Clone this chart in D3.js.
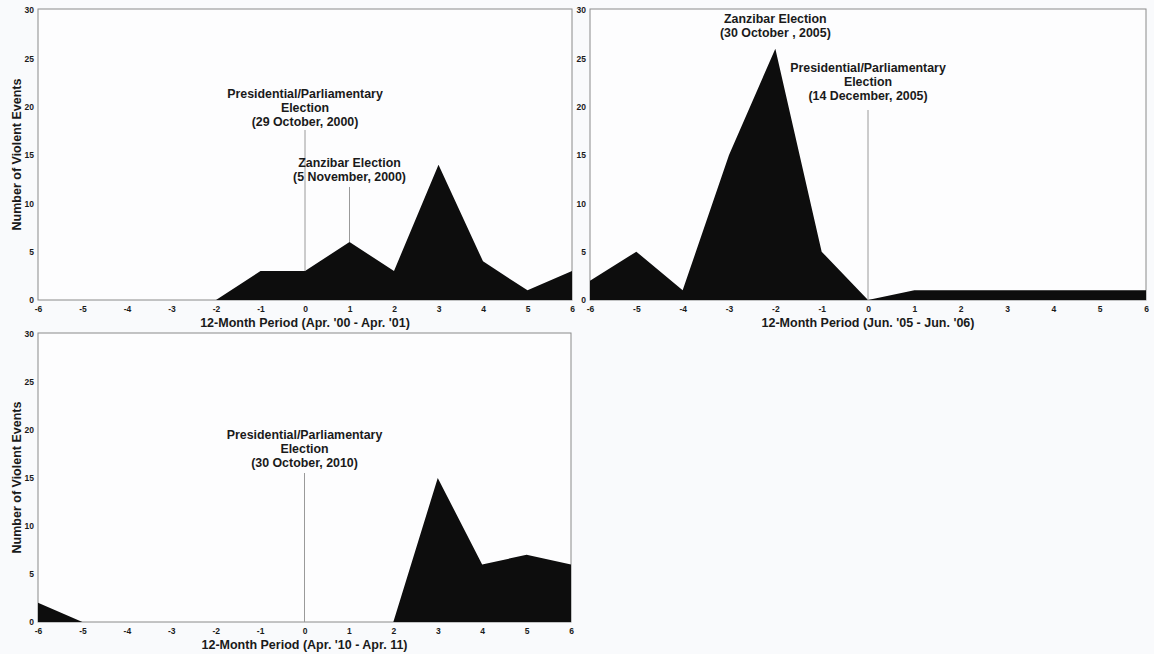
<!DOCTYPE html>
<html>
<head>
<meta charset="utf-8">
<script src="https://cdn.jsdelivr.net/npm/d3@7"></script>
<style>
  html, body { margin: 0; padding: 0; background: #f9fafc; }
  svg { display: block; }
  text { font-family: "Liberation Sans", Arial, sans-serif; font-weight: bold; fill: #1a1a1a; }
</style>
</head>
<body>
<svg id="chart" width="1154" height="654"></svg>
<script>
// Months relative to the election month
const months = [-6, -5, -4, -3, -2, -1, 0, 1, 2, 3, 4, 5, 6];
const yTicks = [0, 5, 10, 15, 20, 25, 30];

// Monthly counts of violent events around each election cycle
const events2000 = [0, 0, 0, 0, 0, 3, 3, 6, 3, 14, 4, 1, 3];
const events2005 = [2, 5, 1, 15, 26, 5, 0, 1, 1, 1, 1, 1, 1];
const events2010 = [2, 0, 0, 0, 0, 0, 0, 0, 0, 15, 6, 7, 6];

const periods = [
  "12-Month Period (Apr. '00 - Apr. '01)",
  "12-Month Period (Jun.  '05 - Jun. '06)",
  "12-Month Period (Apr. '10 - Apr. 11)"
];

// Election markers: month offset and label lines
const markers2000 = [
  { month: 0, lines: ["Presidential/Parliamentary", "Election", "(29 October, 2000)"] },
  { month: 1, lines: ["Zanzibar Election", "(5 November, 2000)"] }
];
const markers2005 = [
  { month: -2, lines: ["Zanzibar Election", "(30 October , 2005)"] },
  { month: 0, lines: ["Presidential/Parliamentary", "Election", "(14 December, 2005)"] }
];
const markers2010 = [
  { month: 0, lines: ["Presidential/Parliamentary", "Election", "(30 October, 2010)"] }
];

const svg = d3.select("#chart");

// Panel frames and annotation placement (pixels)
const panels = [
  { values: events2000, markers: markers2000, period: periods[0], yTitle: true,
    box: { x0: 38, x1: 572, y0: 9, y1: 300 },
    labelY: [94, 163], lineTop: [130, 187], drawLine: [true, true] },
  { values: events2005, markers: markers2005, period: periods[1], yTitle: false,
    box: { x0: 590, x1: 1146, y0: 9, y1: 300 },
    labelY: [19, 68], lineTop: [null, 110], drawLine: [false, true] },
  { values: events2010, markers: markers2010, period: periods[2], yTitle: true,
    box: { x0: 38, x1: 571, y0: 333, y1: 622 },
    labelY: [435], lineTop: [473], drawLine: [true] }
];

panels.forEach(p => {
  const b = p.box;
  const x = d3.scaleLinear().domain([-6, 6]).range([b.x0, b.x1]);
  const y = d3.scaleLinear().domain([0, 30]).range([b.y1, b.y0 + 1]);
  const g = svg.append("g");

  // frame
  g.append("rect")
    .attr("x", b.x0).attr("y", b.y0)
    .attr("width", b.x1 - b.x0).attr("height", b.y1 - b.y0)
    .attr("fill", "#fdfdfe").attr("stroke", "#8a8a8a").attr("stroke-width", 1);

  // filled area
  const data = months.map((m, i) => ({ m, v: p.values[i] }));
  const area = d3.area().x(d => x(d.m)).y0(y(0)).y1(d => y(d.v));
  g.append("path").datum(data).attr("d", area).attr("fill", "#0d0d0d");

  // election marker lines
  p.markers.forEach((mk, i) => {
    if (!p.drawLine[i]) return;
    const v = p.values[months.indexOf(mk.month)];
    g.append("line")
      .attr("x1", x(mk.month)).attr("x2", x(mk.month))
      .attr("y1", p.lineTop[i]).attr("y2", y(v))
      .attr("stroke", "#9a9a9a").attr("stroke-width", 1);
  });

  // marker labels
  p.markers.forEach((mk, i) => {
    const t = g.append("text").attr("text-anchor", "middle").attr("font-size", 12.4);
    mk.lines.forEach((ln, j) => {
      t.append("tspan").attr("x", x(mk.month)).attr("y", p.labelY[i] + j * 14 + 4).text(ln);
    });
  });

  // axes
  const xAxis = g.append("g").attr("transform", `translate(0,${b.y1})`)
    .call(d3.axisBottom(x).tickValues(months).tickSize(0).tickPadding(6).tickFormat(d => String(d)));
  xAxis.select(".domain").remove();
  xAxis.selectAll("text").attr("font-size", 8.5).attr("font-family", null).attr("fill", "#1a1a1a");

  const yAxis = g.append("g").attr("transform", `translate(${b.x0},0)`)
    .call(d3.axisLeft(y).tickValues(yTicks).tickSize(0).tickPadding(4).tickFormat(d => String(d)));
  yAxis.select(".domain").remove();
  yAxis.selectAll("text").attr("font-size", 8.5).attr("font-family", null).attr("fill", "#1a1a1a");

  // axis titles
  g.append("text")
    .attr("x", x(0)).attr("y", b.y1 + 27)
    .attr("text-anchor", "middle").attr("font-size", 12.5)
    .text(p.period);

  if (p.yTitle) {
    g.append("text")
      .attr("transform", `translate(21,${(b.y0 + b.y1) / 2}) rotate(-90)`)
      .attr("text-anchor", "middle").attr("font-size", 12.5)
      .text("Number of Violent Events");
  }
});
</script>
</body>
</html>
